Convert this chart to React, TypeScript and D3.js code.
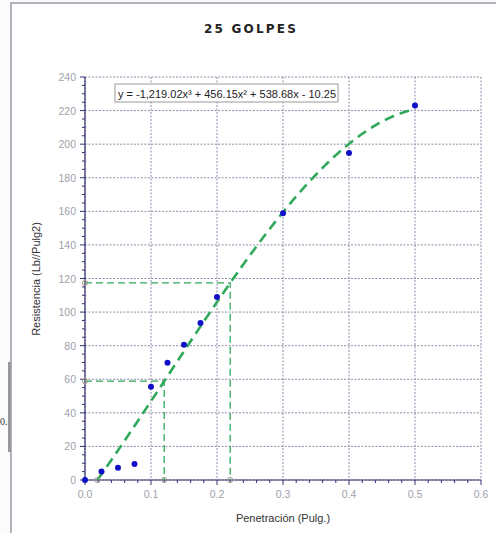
import React from "react";
import * as d3 from "d3";

// Measured points: penetration (in) vs. resistance (lb/in²)
const penetration = [0, 0.025, 0.05, 0.075, 0.1, 0.125, 0.15, 0.175, 0.2, 0.3, 0.4, 0.5];
const resistance = [0, 5, 7.3, 9.6, 55.5, 69.8, 80.5, 93.5, 109, 158.8, 194.8, 223];

// Cubic fit y = a x³ + b x² + c x + d
const fitCoefs = [-1219.02, 456.15, 538.68, -10.25];
const fitLabel = "y = -1,219.02x³ + 456.15x² + 538.68x - 10.25";

// Readings taken off the fitted curve
const readX = [0.12, 0.22];
const curveStart = 0.019;
const curveEnd = 0.5;

const xTicks = [0, 0.1, 0.2, 0.3, 0.4, 0.5, 0.6];
const yTicks = [0, 20, 40, 60, 80, 100, 120, 140, 160, 180, 200, 220, 240];

const W = 496;
const H = 533;
const m = { left: 85, right: 481, top: 77, bottom: 480 };

const fit = (x: number) =>
  fitCoefs[0] * x ** 3 + fitCoefs[1] * x ** 2 + fitCoefs[2] * x + fitCoefs[3];

export default function App() {
  const x = d3.scaleLinear().domain([0, 0.6]).range([m.left, m.right]);
  const y = d3.scaleLinear().domain([0, 240]).range([m.bottom, m.top]);

  const samples = d3.range(curveStart, curveEnd + 1e-9, 0.002);
  const curve = d3
    .line<number>()
    .x((d) => x(d))
    .y((d) => y(fit(d)))(samples) as string;

  const xMinor = d3.range(0, 0.6001, 0.02);
  const yMinor = d3.range(0, 240.001, 5);

  const grid = "#8c8ca8";
  const axis = "#303070";
  const green = "#2fa85a";
  const tickCol = "#a0a0ac";
  const font = "Liberation Sans, Arial, sans-serif";

  return (
    <svg
      width={W}
      height={H}
      style={{ position: "absolute", left: 0, top: 0, background: "#fbfbfb" }}
      fontFamily={font}
    >
      {/* page edge details */}
      <rect x={8} y={362} width={3} height={90} fill="#999" />
      <text x={0} y={425} fontSize={10} fill="#333" fontFamily="Liberation Serif, serif">
        0.
      </text>
      {/* chart frame */}
      <rect x={11} y={3} width={W} height={H} fill="#fff" stroke="#9a9aa6" strokeWidth={1.5} />

      <text
        x={251}
        y={33}
        textAnchor="middle"
        fontSize={12}
        fontWeight="bold"
        letterSpacing={2.2}
        fill="#222"
        fontFamily="DejaVu Sans, sans-serif"
      >
        25 GOLPES
      </text>

      {/* grid */}
      {xTicks.map((t) => (
        <line
          key={"gx" + t}
          x1={x(t)}
          x2={x(t)}
          y1={y(240)}
          y2={y(0)}
          stroke={grid}
          strokeWidth={1}
          strokeDasharray="2,1.5"
        />
      ))}
      {yTicks.map((t) => (
        <line
          key={"gy" + t}
          x1={x(0)}
          x2={x(0.6)}
          y1={y(t)}
          y2={y(t)}
          stroke={grid}
          strokeWidth={1}
          strokeDasharray="2,1.5"
        />
      ))}

      {/* axes */}
      <line x1={x(0)} x2={x(0)} y1={y(240)} y2={y(0)} stroke={axis} strokeWidth={1.2} />
      <line x1={x(0)} x2={x(0.6)} y1={y(0)} y2={y(0)} stroke={axis} strokeWidth={1.2} />
      {yMinor.map((t) => (
        <line
          key={"my" + t}
          x1={x(0) - (t % 20 === 0 ? 5 : 3)}
          x2={x(0)}
          y1={y(t)}
          y2={y(t)}
          stroke={axis}
          strokeWidth={1}
        />
      ))}
      {xMinor.map((t, i) => (
        <line
          key={"mx" + i}
          x1={x(t)}
          x2={x(t)}
          y1={y(0)}
          y2={y(0) + (i % 5 === 0 ? 5 : 3)}
          stroke={axis}
          strokeWidth={1}
        />
      ))}
      {yTicks.map((t) => (
        <text
          key={"ly" + t}
          x={x(0) - 9}
          y={y(t) + 4}
          textAnchor="end"
          fontSize={10.5}
          fill={tickCol}
        >
          {t}
        </text>
      ))}
      {xTicks.map((t) => (
        <text
          key={"lx" + t}
          x={x(t)}
          y={y(0) + 18}
          textAnchor="middle"
          fontSize={10.5}
          fill={tickCol}
        >
          {t.toFixed(1)}
        </text>
      ))}

      <text x={283} y={522} textAnchor="middle" fontSize={11} fill="#333">
        Penetración (Pulg.)
      </text>
      <text
        transform={`translate(40,${279}) rotate(-90)`}
        textAnchor="middle"
        fontSize={11}
        fill="#333"
      >
        Resistencia (Lb//Pulg2)
      </text>

      {/* reading guides */}
      {readX.map((rx) => (
        <path
          key={"g" + rx}
          d={`M${x(0)},${y(fit(rx))}H${x(rx)}V${y(0)}`}
          fill="none"
          stroke={green}
          strokeWidth={1.3}
          strokeDasharray="7,4"
        />
      ))}

      {/* fitted curve */}
      <path d={curve} fill="none" stroke={green} strokeWidth={2.6} strokeDasharray="10,6" />

      {/* guide anchor markers */}
      {[curveStart, ...readX].map((rx) => (
        <circle key={"ax" + rx} cx={x(rx)} cy={y(0)} r={2.6} fill="none" stroke="#a89888" strokeWidth={1} />
      ))}
      {readX.map((rx) => (
        <circle key={"ay" + rx} cx={x(0)} cy={y(fit(rx))} r={2.6} fill="none" stroke="#a89888" strokeWidth={1} />
      ))}

      {/* data points */}
      {penetration.map((p, i) => (
        <circle key={"p" + i} cx={x(p)} cy={y(resistance[i])} r={3} fill="#1010c8" />
      ))}

      {/* equation label */}
      <rect x={115} y={84} width={223} height={18} fill="#fff" stroke="#9a9a9a" strokeWidth={1} />
      <text x={118} y={97.5} fontSize={11} fill="#222">
        {fitLabel}
      </text>
    </svg>
  );
}
